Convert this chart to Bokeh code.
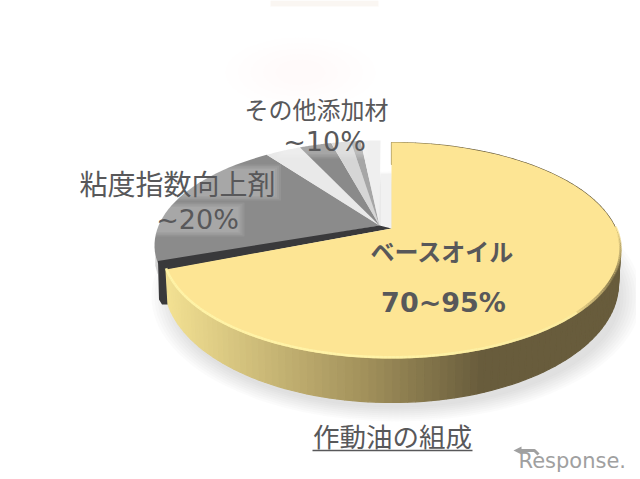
import math
from bokeh.plotting import figure
from bokeh.models import Range1d
from bokeh.core.properties import value
from bokeh.embed import file_html
from bokeh.resources import INLINE

slice_names = ["ベースオイル", "粘度指数向上剤", "添加材A", "添加材B", "添加材C", "添加材D", "その他"]
slice_shares = [72.2, 19.4, 2.6, 2.3, 1.4, 0.7, 1.4]
slice_colors = ["#fde594", "#8b8b8b", "#e9e9e9", "#8a8a8a", "#d6d6d6", "#a6a6a6", "#efefef"]
label_other = ["その他添加材", "~10%"]
label_vi = ["粘度指数向上剤", "~20%"]
label_base = ["ベースオイル", "70~95%"]
title_text = "作動油の組成"
logo_text = "Response."

W, H = 636, 475
p = figure(width=W, height=H, output_backend="svg", toolbar_location=None,
           x_range=Range1d(0, W), y_range=Range1d(H, 0), min_border=0)
p.axis.visible = False
p.grid.visible = False
p.outline_line_color = None
p.background_fill_color = "white"
p.border_fill_color = "white"

JP = value("Noto Sans CJK JP")
LAT = value("DejaVu Sans")
TXT = "#58585a"

# angles clockwise from the top, in degrees
total = sum(slice_shares)
edges = [0.0]
for s in slice_shares:
    edges.append(edges[-1] + s / total * 360.0)


def ell(a, cx, cy, sx, sy):
    r = math.radians(a)
    return cx + sx * math.sin(r), cy - sy * math.cos(r)


def arc(a0, a1, cx, cy, sx, sy, n=90):
    pts = [ell(a0 + (a1 - a0) * i / n, cx, cy, sx, sy) for i in range(n + 1)]
    return [q[0] for q in pts], [q[1] for q in pts]


def mix(c0, c1, t):
    t = max(0.0, min(1.0, t))
    return "#%02x%02x%02x" % tuple(round(a + (b - a) * t) for a, b in zip(c0, c1))


TOP = (391, 250, 229, 108)
BOT = (391, 283, 227, 119)
GRAY = (380, 245, 226, 105)
APEX_Y = (391, 228)
APEX_G = (379, 225)

# background blotches
p.quad(left=[270], right=[378], top=[0], bottom=[6], fill_color="#f3ebe2", fill_alpha=0.45, line_color=None)
for i in range(5):
    p.ellipse(x=[300], y=[72], width=[150 - i * 25], height=[70 - i * 11], fill_color="#f6efe6",
              fill_alpha=0.03, line_color=None)

# soft shadow below the pie
for i in range(8):
    p.ellipse(x=[396], y=[296], width=[490 - i * 6], height=[250 - i * 4], fill_color="#8a8a8a",
              fill_alpha=0.035, line_color=None)

# other slices
for k in range(1, len(slice_shares)):
    xs, ys = arc(edges[k], edges[k + 1], *GRAY, n=30)
    p.patch([APEX_G[0]] + xs, [APEX_G[1]] + ys, fill_color=slice_colors[k], line_color=None)
# pale strip beside the yellow slice
xs, ys = arc(edges[1], edges[1] + 5, *GRAY, n=8)
for i in range(len(xs) - 1):
    p.quad(left=[xs[i] - 0], right=[xs[i + 1]], top=[ys[i]], bottom=[ys[i] + 10], fill_color="#a5a5a5",
           fill_alpha=0.6, line_color=None)
p.quad(left=[380], right=[391], top=[173], bottom=[232], fill_color="#f1f1f1", line_color=None)

# dark cut face
gx, gy = ell(edges[1], *GRAY)
yx, yy = ell(edges[1], *TOP)
p.patch([APEX_G[0], gx, gx + 1, gx + 4, yx + 3, yx + 3, APEX_Y[0]],
        [APEX_G[1], gy - 3, yy + 30, yy + 35, yy + 35, yy, APEX_Y[1]],
        fill_color="#39393b", line_color=None)

# side wall
W0, W1, W2 = (242, 224, 146), (160, 143, 90), (104, 92, 60)
STEPS = 130
tx, ty = arc(0, edges[1], *TOP, n=STEPS)
bx, by = arc(0, edges[1], *BOT, n=STEPS)
for i in range(STEPS):
    t = (tx[i] - 168) / (620 - 168)
    c = mix(W0, W1, t / 0.45) if t < 0.45 else mix(W1, W2, (t - 0.45) / 0.25)
    p.patch([tx[i], tx[i + 1], bx[i + 1], bx[i]], [ty[i], ty[i + 1], by[i + 1], by[i]],
            fill_color=c, line_color=c, line_width=1.2)

# yellow top face
xs, ys = arc(0, edges[1], *TOP, n=240)
p.patch([APEX_Y[0]] + xs, [APEX_Y[1]] + ys, fill_color=slice_colors[0], line_color=None)

# bevel round the rim
rx, ry = arc(0, edges[1], *TOP, n=260)
for i in range(78, 260):
    a = i / 260 * edges[1]
    if a < 125:
        c = mix((253, 229, 148), (116, 103, 66), 1 - abs(a - 105) / 25) if a > 80 else "#fde594"
    else:
        c = mix((250, 236, 160), (255, 246, 170), (a - 125) / 60)
    p.line([rx[i], rx[i + 1]], [ry[i] - 1.2, ry[i + 1] - 1.2], line_color=c, line_width=2.6, line_alpha=0.85)


def halo(cx, cy, w, h):
    for i in range(4):
        p.rect(x=[cx], y=[cy], width=[w + 12 - i * 4], height=[h + 10 - i * 3], fill_color="#ffffff",
               fill_alpha=0.07, line_color=None)


halo(177, 182, 195, 26)
halo(197, 219, 82, 24)
halo(323, 141, 82, 24)


def label(x, y, t, font, size, bold=False):
    p.text(x=[x], y=[y], text=[t], text_font=font, text_font_size=f"{size}px", text_color=TXT,
           text_align="center", text_baseline="middle", text_font_style="bold" if bold else "normal")


label(316, 108, label_other[0], JP, 24)
label(324, 141, label_other[1], LAT, 27)
label(177, 182, label_vi[0], JP, 28)
label(197, 219, label_vi[1], LAT, 27)
label(442, 250, label_base[0], JP, 24, True)
label(443, 302, label_base[1], LAT, 27, True)
label(392, 435, title_text, JP, 26.5)
p.line([312, 472], [450, 450], line_color=TXT, line_width=1.6)

# logo
p.text(x=[518], y=[460], text=[logo_text], text_font=LAT, text_font_size="21px", text_color="#a0a0a0",
       text_align="left", text_baseline="middle")
p.line([518, 534, 538], [450, 450, 454], line_color="#a0a0a0", line_width=3)
p.patch([513, 521, 521], [450, 446, 454], fill_color="#a0a0a0", line_color=None)

open("out.html", "w").write(file_html(p, INLINE))
